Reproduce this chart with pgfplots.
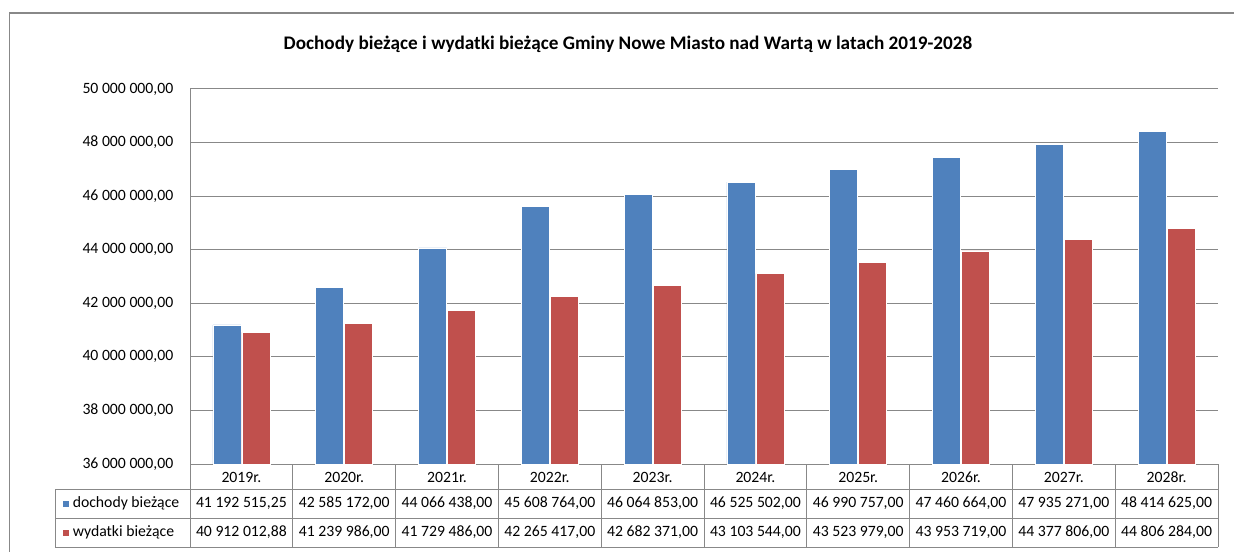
\documentclass[border=0pt]{standalone}
\usepackage{fontspec}
\setmainfont{Carlito}
\usepackage{pgfplots}
\pgfplotsset{compat=1.18}
\definecolor{cblue}{HTML}{4F81BD}
\definecolor{cred}{HTML}{C0504D}
\definecolor{cgrid}{HTML}{888888}
\newcommand{\tf}{\fontsize{11.8}{14}\selectfont}
\begin{document}
\begin{tikzpicture}[x=0.75pt,y=-0.75pt]
\useasboundingbox (0,0) rectangle (1234,552);
\draw[cgrid, line width=1.1pt] (9.5,552) -- (9.5,13) -- (1234,13);
\node[font=\fontsize{14.4}{16}\selectfont\bfseries] at (628,44) {Dochody bieżące i wydatki bieżące Gminy Nowe Miasto nad Wartą w latach 2019-2028};
\begin{axis}[
  at={(142.5pt,-348pt)}, anchor=south west,
  width=771pt, height=281.25pt, scale only axis,
  ybar=0.75pt, bar width=21pt,
  xmin=-0.5, xmax=9.5, ymin=36000000, ymax=50000000,
  ytick={36000000,38000000,40000000,42000000,44000000,46000000,48000000,50000000},
  yticklabels={{36 000 000,00},{38 000 000,00},{40 000 000,00},{42 000 000,00},{44 000 000,00},{46 000 000,00},{48 000 000,00},{50 000 000,00}},
  xtick={0,1,2,3,4,5,6,7,8,9},
  xticklabels={2019r.,2020r.,2021r.,2022r.,2023r.,2024r.,2025r.,2026r.,2027r.,2028r.},
  major tick length=0,
  scaled y ticks=false,
  ymajorgrids, grid style={cgrid, line width=0.75pt},
  axis lines*=left, axis line style={cgrid, line width=0.75pt, -},
  tick label style={font=\tf, text=black},
  yticklabel style={xshift=-9pt},
  xticklabel style={anchor=center, yshift=-9.8pt},
]
\addplot[fill=cblue, draw=white, line width=0.5pt] coordinates {
 (0,41192515.25) (1,42585172) (2,44066438) (3,45608764) (4,46064853)
 (5,46525502) (6,46990757) (7,47460664) (8,47935271) (9,48414625)};
\addplot[fill=cred, draw=white, line width=0.5pt] coordinates {
 (0,40912012.88) (1,41239986) (2,41729486) (3,42265417) (4,42682371)
 (5,43103544) (6,43523979) (7,43953719) (8,44377806) (9,44806284)};
\end{axis}
% data table
\draw[cgrid, line width=0.75pt] (55,489) -- (1218,489);
\draw[cgrid, line width=0.75pt] (55,518) -- (1218,518);
\draw[cgrid, line width=0.75pt] (55,547) -- (1218,547);
\draw[cgrid, line width=0.75pt] (55,489) -- (55,547);
\foreach \k in {0,...,10} {
  \draw[cgrid, line width=0.75pt] ({190+102.8*\k},464) -- ({190+102.8*\k},547);
}
\fill[cblue] (62.7,500.5) rectangle (68.7,506.5);
\fill[cred] (62.7,529.5) rectangle (68.7,535.5);
\node[anchor=west, inner sep=0pt, font=\tf] at (72.5,503.5) {dochody bieżące};
\node[anchor=west, inner sep=0pt, font=\tf] at (72.5,532.5) {wydatki bieżące};
\foreach \a/\b [count=\i from 0] in {
  {41 192 515,25}/{40 912 012,88},
  {42 585 172,00}/{41 239 986,00},
  {44 066 438,00}/{41 729 486,00},
  {45 608 764,00}/{42 265 417,00},
  {46 064 853,00}/{42 682 371,00},
  {46 525 502,00}/{43 103 544,00},
  {46 990 757,00}/{43 523 979,00},
  {47 460 664,00}/{43 953 719,00},
  {47 935 271,00}/{44 377 806,00},
  {48 414 625,00}/{44 806 284,00}} {
  \node[font=\tf, inner sep=0pt] at ({241.4+102.8*\i},503.5) {\a};
  \node[font=\tf, inner sep=0pt] at ({241.4+102.8*\i},532.5) {\b};
}
\end{tikzpicture}
\end{document}
